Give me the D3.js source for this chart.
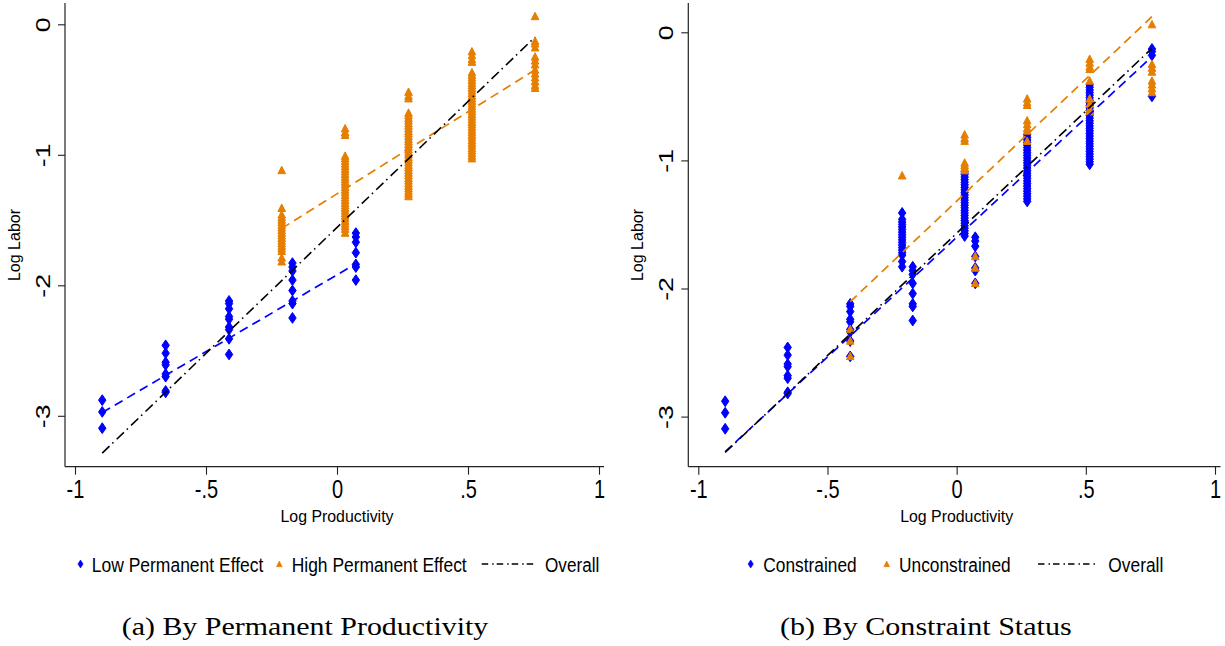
<!DOCTYPE html>
<html><head><meta charset="utf-8">
<script src="https://cdn.jsdelivr.net/npm/d3@7"></script>
<style>body{margin:0;background:#fff}svg{display:block}</style>
</head><body>
<svg id="c" width="1225" height="646"></svg>
<script>
// ---------------- DATA ----------------
const xTicks = [-1, -0.5, 0, 0.5, 1];
const xTickLabels = ["-1", "-.5", "0", ".5", "1"];
const yTicks = [0, -1, -2, -3];
const yTickLabels = ["0", "-1", "-2", "-3"];

// Panel (a): Low Permanent Effect (blue diamonds)
const lowX = [-0.896, -0.654, -0.412, -0.170, 0.072];
const lowY = [
  [-2.88, -2.97, -3.095],
  [-2.46, -2.52, -2.59, -2.61, -2.68, -2.70, -2.81, -2.82],
  [-2.12, -2.14, -2.18, -2.24, -2.26, -2.32, -2.34, -2.41, -2.53],
  [-1.83, -1.86, -1.89, -1.96, -2.04, -2.12, -2.14, -2.25],
  [-1.60, -1.63, -1.67, -1.75, -1.84, -1.86, -1.96]
];
// Panel (a): High Permanent Effect (orange triangles)
const highX = [-0.211, 0.031, 0.273, 0.515, 0.756];
const highY = [
  [-1.12, -1.41, -1.46, -1.48, -1.50, -1.52, -1.54, -1.56, -1.58, -1.60, -1.62, -1.64, -1.66, -1.68, -1.70, -1.72, -1.74, -1.79, -1.82],
  [-0.80, -0.83, -0.85, -1.01, -1.03, -1.05, -1.07, -1.09, -1.11, -1.13, -1.15, -1.17, -1.19, -1.21, -1.23, -1.25, -1.27, -1.29, -1.31, -1.33, -1.35, -1.37, -1.39, -1.41, -1.43, -1.45, -1.47, -1.49, -1.51, -1.53, -1.55, -1.57, -1.60],
  [-0.52, -0.55, -0.57, -0.68, -0.70, -0.72, -0.74, -0.76, -0.78, -0.80, -0.82, -0.84, -0.86, -0.88, -0.90, -0.92, -0.94, -0.96, -0.98, -1.00, -1.02, -1.04, -1.06, -1.08, -1.10, -1.12, -1.14, -1.16, -1.18, -1.20, -1.22, -1.24, -1.26, -1.28, -1.30, -1.32],
  [-0.21, -0.24, -0.27, -0.29, -0.37, -0.39, -0.41, -0.43, -0.45, -0.47, -0.49, -0.51, -0.53, -0.55, -0.57, -0.59, -0.61, -0.63, -0.65, -0.67, -0.69, -0.71, -0.73, -0.75, -0.77, -0.79, -0.81, -0.83, -0.85, -0.87, -0.89, -0.91, -0.93, -0.95, -0.97, -0.99, -1.01, -1.03],
  [0.06, -0.13, -0.15, -0.18, -0.25, -0.28, -0.31, -0.35, -0.38, -0.41, -0.44, -0.47, -0.49]
];
// Panel (a) fitted lines [x, y] endpoints
const lowFit = [[-0.896, -2.975], [0.072, -1.835]];
const highFit = [[-0.211, -1.564], [0.756, -0.349]];
const overallFitA = [[-0.896, -3.286], [0.756, -0.098]];

// Panel (b): Constrained (blue diamonds)
const conX = [-0.896, -0.654, -0.412, -0.211, -0.170, 0.031, 0.072, 0.273, 0.515, 0.756];
const conY = [
  [-2.88, -2.97, -3.095],
  [-2.46, -2.52, -2.59, -2.61, -2.68, -2.70, -2.81, -2.82],
  [-2.12, -2.14, -2.18, -2.24, -2.26, -2.32, -2.34, -2.41, -2.53],
  [-1.41, -1.46, -1.48, -1.50, -1.52, -1.54, -1.56, -1.58, -1.60, -1.62, -1.64, -1.66, -1.68, -1.70, -1.72, -1.74, -1.79, -1.83],
  [-1.83, -1.86, -1.89, -1.96, -2.04, -2.12, -2.14, -2.25],
  [-1.09, -1.11, -1.13, -1.15, -1.17, -1.19, -1.21, -1.23, -1.25, -1.27, -1.29, -1.31, -1.33, -1.35, -1.37, -1.39, -1.41, -1.43, -1.45, -1.47, -1.49, -1.51, -1.53, -1.55, -1.57, -1.59],
  [-1.60, -1.63, -1.67, -1.75, -1.84, -1.86, -1.96],
  [-0.80, -0.82, -0.84, -0.86, -0.88, -0.90, -0.92, -0.94, -0.96, -0.98, -1.00, -1.02, -1.04, -1.06, -1.08, -1.10, -1.12, -1.14, -1.16, -1.18, -1.20, -1.22, -1.24, -1.26, -1.28, -1.30, -1.32],
  [-0.41, -0.43, -0.45, -0.47, -0.49, -0.51, -0.53, -0.55, -0.57, -0.59, -0.61, -0.63, -0.65, -0.67, -0.69, -0.71, -0.73, -0.75, -0.77, -0.79, -0.81, -0.83, -0.85, -0.87, -0.89, -0.91, -0.93, -0.95, -0.97, -0.99, -1.01, -1.03],
  [-0.13, -0.15, -0.18, -0.50]
];
// Panel (b): Unconstrained (orange triangles)
const uncX = [-0.412, -0.211, 0.031, 0.072, 0.273, 0.515, 0.756];
const uncY = [
  [-2.32, -2.41, -2.53],
  [-1.12],
  [-0.80, -0.83, -0.85, -1.02, -1.04, -1.06, -1.08],
  [-1.75, -1.84, -1.96],
  [-0.52, -0.55, -0.57, -0.69, -0.72, -0.75, -0.77, -0.85],
  [-0.21, -0.24, -0.27, -0.29, -0.38, -0.52, -0.56, -0.60, -0.62],
  [0.06, -0.25, -0.28, -0.31, -0.38, -0.41, -0.44, -0.47]
];
// Panel (b) fitted lines
const conFit = [[-0.896, -3.274], [0.756, -0.190]];
const uncFit = [[-0.412, -2.103], [0.756, 0.122]];
const overallFitB = [[-0.896, -3.280], [0.756, -0.125]];

const legendA = ["Low Permanent Effect", "High Permanent Effect", "Overall"];
const legendB = ["Constrained", "Unconstrained", "Overall"];
const captions = ["(a) By Permanent Productivity", "(b) By Constraint Status"];
const xTitle = "Log Productivity";
const yTitle = "Log Labor";

// ---------------- STYLE ----------------
const BLUE = "#0000ff", ORANGE = "#e67e00", BLACK = "#000";
const SANS = "'Liberation Sans', Arial, Helvetica, sans-serif";
const SERIF = "'Liberation Serif', 'Times New Roman', serif";
const DASH = "9,5.5";
const DASHDOT = "10,4,1.5,4.5";

const svg = d3.select("#c");

function pts(xs, ys) {
  const out = [];
  xs.forEach((xv, i) => ys[i].forEach(yv => out.push([xv, yv])));
  return out;
}
const diamondPath = "M0,-5.4L3.7,0L0,5.4L-3.7,0Z";
const trianglePath = "M0,-4.2L3.8,3.2L-3.8,3.2Z";

function drawPanel(cfg) {
  const g = svg.append("g");
  const x = d3.scaleLinear().domain([-1, 1]).range([cfg.xm1, cfg.xp1]);
  const y = d3.scaleLinear().domain([0, -3]).range([cfg.y0, cfg.ym3]);

  // axis lines
  g.append("line").attr("x1", cfg.ax).attr("x2", cfg.ax).attr("y1", cfg.top).attr("y2", cfg.bottom)
    .attr("stroke", "#222").attr("stroke-width", 1.2);
  g.append("line").attr("x1", cfg.ax).attr("x2", cfg.axEnd).attr("y1", cfg.bottom).attr("y2", cfg.bottom)
    .attr("stroke", "#222").attr("stroke-width", 1.2);

  // x axis ticks
  const xa = g.append("g").attr("transform", `translate(0,${cfg.bottom})`)
    .call(d3.axisBottom(x).tickValues(xTicks).tickFormat((d, i) => xTickLabels[i]).tickSize(8).tickSizeOuter(0));
  xa.select(".domain").remove();
  xa.selectAll("line").attr("stroke", "#222").attr("stroke-width", 1.1);
  xa.selectAll("text").attr("y", null).attr("dy", null)
    .attr("transform", "translate(0,31.5) scale(1,1.25)")
    .attr("font-family", SANS).attr("font-size", 20).attr("fill", "#000");

  // y axis ticks
  const ya = g.append("g").attr("transform", `translate(${cfg.ax},0)`)
    .call(d3.axisLeft(y).tickValues(yTicks).tickFormat((d, i) => yTickLabels[i]).tickSize(7).tickSizeOuter(0));
  ya.select(".domain").remove();
  ya.selectAll("line").attr("stroke", "#222").attr("stroke-width", 1.1);
  ya.selectAll("text").attr("x", null).attr("dy", null)
    .attr("text-anchor", "middle")
    .attr("transform", "translate(-15,0) rotate(-90) scale(1.3,1)")
    .attr("font-family", SANS).attr("font-size", 20.5).attr("fill", "#000");

  // titles
  g.append("text").attr("x", x(0)).attr("y", 521.5).attr("text-anchor", "middle")
    .attr("font-family", SANS).attr("font-size", 16).attr("textLength", 113).attr("lengthAdjust", "spacingAndGlyphs")
    .text(xTitle);
  g.append("text").attr("transform", `translate(${cfg.ax - 45.5},245) rotate(-90)`).attr("text-anchor", "middle")
    .attr("font-family", SANS).attr("font-size", 16).text(yTitle);

  // markers
  g.append("g").selectAll("path").data(pts(cfg.bX, cfg.bY)).join("path")
    .attr("d", diamondPath).attr("fill", BLUE).attr("stroke", BLUE).attr("stroke-width", 1)
    .attr("stroke-linejoin", "round")
    .attr("transform", d => `translate(${x(d[0])},${y(d[1])})`);
  g.append("g").selectAll("path").data(pts(cfg.oX, cfg.oY)).join("path")
    .attr("d", trianglePath).attr("fill", ORANGE).attr("stroke", ORANGE).attr("stroke-width", 1)
    .attr("stroke-linejoin", "round")
    .attr("transform", d => `translate(${x(d[0])},${y(d[1])})`);

  // fit lines
  const line = d3.line().x(d => x(d[0])).y(d => y(d[1]));
  g.append("path").attr("d", line(cfg.bFit)).attr("fill", "none").attr("stroke", BLUE)
    .attr("stroke-width", 1.7).attr("stroke-dasharray", DASH);
  g.append("path").attr("d", line(cfg.oFit)).attr("fill", "none").attr("stroke", ORANGE)
    .attr("stroke-width", 1.7).attr("stroke-dasharray", DASH);
  g.append("path").attr("d", line(cfg.allFit)).attr("fill", "none").attr("stroke", BLACK)
    .attr("stroke-width", 1.6).attr("stroke-dasharray", DASHDOT);

  // legend
  const L = cfg.leg, ly = 571.5;
  g.append("path").attr("d", "M0,-4L2.6,0L0,4L-2.6,0Z").attr("fill", BLUE).attr("stroke", BLUE).attr("stroke-width", 0.6)
    .attr("transform", `translate(${L.d},564)`);
  g.append("path").attr("d", "M0,-3L2.9,2.7L-2.9,2.7Z").attr("fill", ORANGE).attr("stroke", ORANGE).attr("stroke-width", 0.6)
    .attr("transform", `translate(${L.t},564)`);
  g.append("line").attr("x1", L.l0).attr("x2", L.l1).attr("y1", 564).attr("y2", 564)
    .attr("stroke", BLACK).attr("stroke-width", 1.3).attr("stroke-dasharray", "6.5,4,1.5,3");
  cfg.legText.forEach((s, i) => {
    g.append("text").attr("transform", `translate(${L.tx[i]},${ly}) scale(1,1.2)`)
      .attr("font-family", SANS).attr("font-size", 17.5)
      .attr("textLength", L.tw[i]).attr("lengthAdjust", "spacingAndGlyphs").text(s);
  });

  // caption
  g.append("text").attr("x", cfg.cap[0]).attr("y", 635).attr("font-family", SERIF).attr("font-size", 25)
    .attr("textLength", cfg.cap[1]).attr("lengthAdjust", "spacingAndGlyphs").text(cfg.capText);
}

drawPanel({
  ax: 65, axEnd: 604, top: 3, bottom: 466.7,
  xm1: 75, xp1: 599, y0: 24.3, ym3: 415.8,
  bX: lowX, bY: lowY, oX: highX, oY: highY,
  bFit: lowFit, oFit: highFit, allFit: overallFitA,
  legText: legendA,
  leg: { d: 80.5, t: 279.3, l0: 481.7, l1: 536.7, tx: [91.7, 291.7, 545], tw: [171.7, 175, 54.3] },
  cap: [121.7, 366.6], capText: captions[0]
});
drawPanel({
  ax: 688.3, axEnd: 1220.5, top: 3, bottom: 466.7,
  xm1: 698.3, xp1: 1215, y0: 32.3, ym3: 416.6,
  bX: conX, bY: conY, oX: uncX, oY: uncY,
  bFit: conFit, oFit: uncFit, allFit: overallFitB,
  legText: legendB,
  leg: { d: 750.7, t: 886.7, l0: 1038, l1: 1096.7, tx: [763.3, 899, 1108.3], tw: [93.4, 111.7, 55] },
  cap: [780, 291.7], capText: captions[1]
});
</script>
</body></html>
